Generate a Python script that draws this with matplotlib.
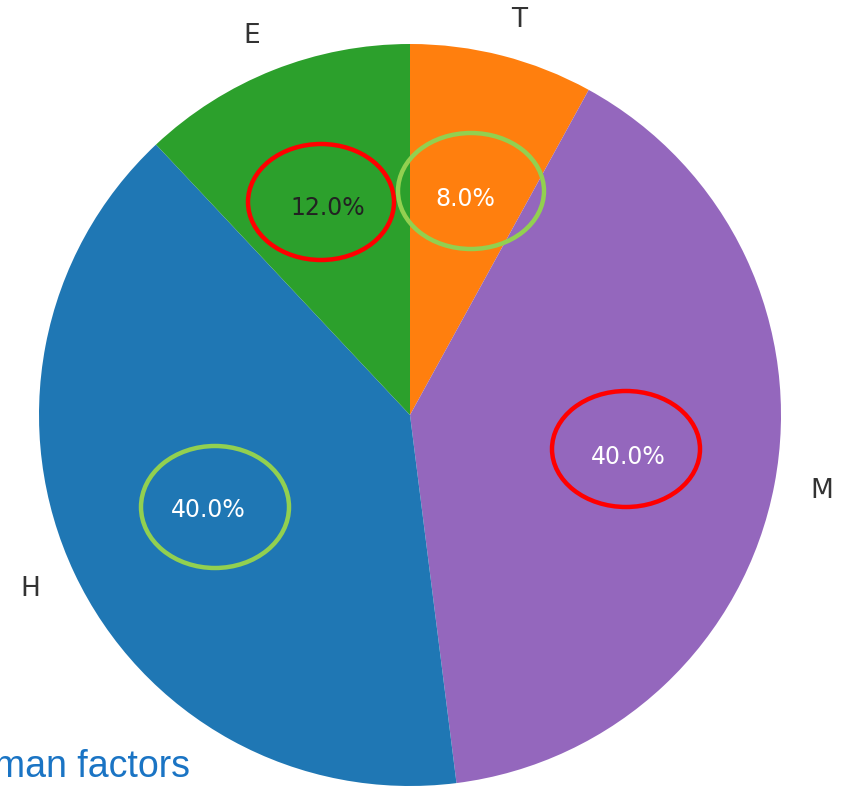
import matplotlib
matplotlib.use("Agg")
import matplotlib.pyplot as plt
from matplotlib.patches import Ellipse

labels = ["T", "M", "H", "E"]
values = [8, 40, 40, 12]
colors = ["#ff7f0e", "#9467bd", "#1f77b4", "#2ca02c"]
pct_colors = ["white", "white", "white", "#222222"]

# annotation ellipses (figure pixel coords): cx, cy, w, h, color
highlights = [
    (321, 202, 146, 116, "#ff0000"),
    (471, 191, 146, 116, "#92d050"),
    (626, 449, 148, 116, "#ff0000"),
    (215, 507, 148, 122, "#92d050"),
]

W, H = 842, 788
fig = plt.figure(figsize=(W / 100, H / 100), dpi=100)
cx, cy, r = 410, 415, 371
ax = fig.add_axes([(cx - r) / W, (H - cy - r) / H, 2 * r / W, 2 * r / H])
wedges, texts, autotexts = ax.pie(
    values, labels=labels, colors=colors, startangle=90, counterclock=False,
    autopct="%1.1f%%", pctdistance=0.6, labeldistance=1.1,
    textprops=dict(fontsize=19, color="#333333", family="DejaVu Sans"),
)
for t, c in zip(autotexts, pct_colors):
    t.set_color(c)
    t.set_fontsize(17)
ax.set_xlim(-1, 1)
ax.set_ylim(-1, 1)
ax.set_aspect("equal")
for t in texts:
    t.set_clip_on(False)

ov = fig.add_axes([0, 0, 1, 1])
ov.set_xlim(0, W)
ov.set_ylim(H, 0)
ov.axis("off")
for ex, ey, ew, eh, ec in highlights:
    ov.add_patch(Ellipse((ex, ey), ew, eh, fill=False, edgecolor=ec, linewidth=3.2))
ov.text(190, 777, "Human factors", ha="right", va="baseline", fontsize=27,
        color="#1a74c4", family="Liberation Sans")

fig.savefig("out.png", dpi=100)
